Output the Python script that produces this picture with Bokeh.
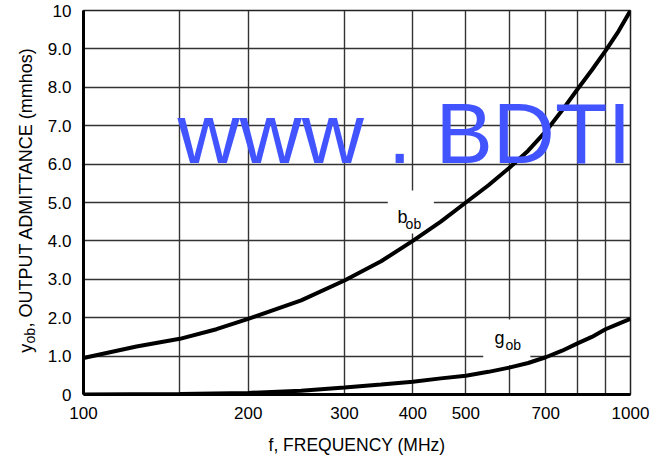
import math
from bokeh.plotting import figure
from bokeh.layouts import row
from bokeh.models import FixedTicker, Label, BoxAnnotation
from bokeh.core.properties import value
from bokeh.embed import file_html
from bokeh.resources import INLINE

# ---- data ----
freq_b = [100, 125, 150, 175, 200, 250, 300, 350, 400, 450, 500, 550, 600, 650, 700, 750, 800, 850, 900, 950, 1000]
b_ob = [0.95, 1.25, 1.45, 1.7, 1.97, 2.45, 2.97, 3.47, 4.0, 4.5, 5.0, 5.45, 5.9, 6.35, 6.85, 7.4, 7.95, 8.45, 8.95, 9.45, 10.0]

freq_g = [100, 150, 200, 250, 300, 350, 400, 450, 500, 550, 600, 650, 700, 750, 800, 850, 900, 950, 1000]
g_ob = [0.0, 0.01, 0.04, 0.1, 0.18, 0.26, 0.33, 0.42, 0.49, 0.59, 0.7, 0.82, 0.97, 1.14, 1.33, 1.5, 1.7, 1.84, 1.97]

x_ticks = [100, 150, 200, 300, 400, 500, 600, 700, 800, 900, 1000]
x_tick_labels = {100: "100", 150: "", 200: "200", 300: "300", 400: "400", 500: "500",
                 600: "", 700: "700", 800: "", 900: "", 1000: "1000"}
y_ticks = [0, 1, 2, 3, 4, 5, 6, 7, 8, 9, 10]
y_tick_labels = {0: "0", 1: "1.0", 2: "2.0", 3: "3.0", 4: "4.0", 5: "5.0",
                 6: "6.0", 7: "7.0", 8: "8.0", 9: "9.0", 10: "10"}

x_title = "f, FREQUENCY (MHz)"
y_title_parts = ["y", "ob", ", OUTPUT ADMITTANCE (mmhos)"]

FONT = "Liberation Sans"
TOP, BOTTOM = 10, 67
STRIP = 44

# ---- main chart ----
p = figure(width=651 - STRIP, height=461, x_axis_type="log", x_range=(100, 1000), y_range=(0, 10),
           output_backend="svg", toolbar_location=None,
           min_border_left=83 - STRIP, min_border_right=21, min_border_top=TOP, min_border_bottom=BOTTOM)
p.background_fill_color = "white"
p.border_fill_color = "white"
p.outline_line_color = "#222222"
p.outline_line_width = 1.5

p.xaxis.ticker = FixedTicker(ticks=x_ticks)
p.yaxis.ticker = FixedTicker(ticks=y_ticks)
p.xaxis.major_label_overrides = x_tick_labels
p.yaxis.major_label_overrides = y_tick_labels
for ax in (p.xaxis, p.yaxis):
    ax.axis_line_width = 3
    ax.axis_line_color = "black"
    ax.major_tick_line_color = None
    ax.minor_tick_line_color = None
    ax.major_tick_out = 0
    ax.major_tick_in = 0
    ax.major_label_text_font = FONT
    ax.major_label_text_font_size = "17px"
    ax.major_label_text_color = "black"
p.xaxis.major_label_standoff = 12
p.yaxis.major_label_standoff = 12

p.xaxis.axis_label = x_title
p.xaxis.axis_label_text_font = FONT
p.xaxis.axis_label_text_font_size = "17.5px"
p.xaxis.axis_label_text_font_style = "normal"
p.xaxis.axis_label_text_color = "black"
p.xaxis.axis_label_standoff = 13

p.xgrid.ticker = FixedTicker(ticks=x_ticks)
p.ygrid.ticker = FixedTicker(ticks=y_ticks)
for g in (p.xgrid, p.ygrid):
    g.grid_line_color = "#333333"
    g.grid_line_width = 1.4

# white boxes behind the curve labels
p.add_layout(BoxAnnotation(left=360, right=437, bottom=4.19, top=5.31,
                           fill_color="white", fill_alpha=1, line_color=None, level="underlay"))
p.add_layout(BoxAnnotation(left=538, right=656, bottom=0.76, top=1.95,
                           fill_color="white", fill_alpha=1, line_color=None, level="underlay"))

p.line(freq_b, b_ob, line_color="black", line_width=4)
p.line(freq_g, g_ob, line_color="black", line_width=4)

# curve labels
p.add_layout(Label(x=375, y=4.35, text="b", text_font=FONT, text_font_size="18px", text_color="black"))
p.add_layout(Label(x=388, y=4.22, text="ob", text_font=FONT, text_font_size="14px", text_color="black"))
p.add_layout(Label(x=564, y=1.2, text="g", text_font=FONT, text_font_size="18px", text_color="black"))
p.add_layout(Label(x=591, y=1.07, text="ob", text_font=FONT, text_font_size="14px", text_color="black"))

# watermark
p.add_layout(Label(x=148.5, y=5.55, text="www . BDTI", text_font=FONT,
                   text_font_size="86px", text_color="#4254ff"))

# ---- y-axis title strip: same vertical data range as the chart, x in pixels ----
t = figure(width=STRIP, height=461, x_range=(0, STRIP), y_range=(0, 10),
           output_backend="svg", toolbar_location=None,
           x_axis_location=None, y_axis_location=None,
           min_border_left=0, min_border_right=0, min_border_top=TOP, min_border_bottom=BOTTOM)
t.grid.visible = False
t.outline_line_color = None
t.background_fill_color = "white"
t.border_fill_color = "white"
half_pi = math.pi / 2
t.text(x=[25], y=[1.09], text=[y_title_parts[0]], angle=half_pi, text_font=value(FONT),
       text_font_size="18px", text_color="black", text_align="left", text_baseline="alphabetic")
t.text(x=[29], y=[1.33], text=[y_title_parts[1]], angle=half_pi, text_font=value(FONT),
       text_font_size="14px", text_color="black", text_align="left", text_baseline="alphabetic")
t.text(x=[25], y=[1.745], text=[y_title_parts[2]], angle=half_pi, text_font=value(FONT),
       text_font_size="18px", text_color="black", text_align="left", text_baseline="alphabetic")

layout = row(t, p, spacing=0)
open("out.html", "w").write(file_html(layout, INLINE))
